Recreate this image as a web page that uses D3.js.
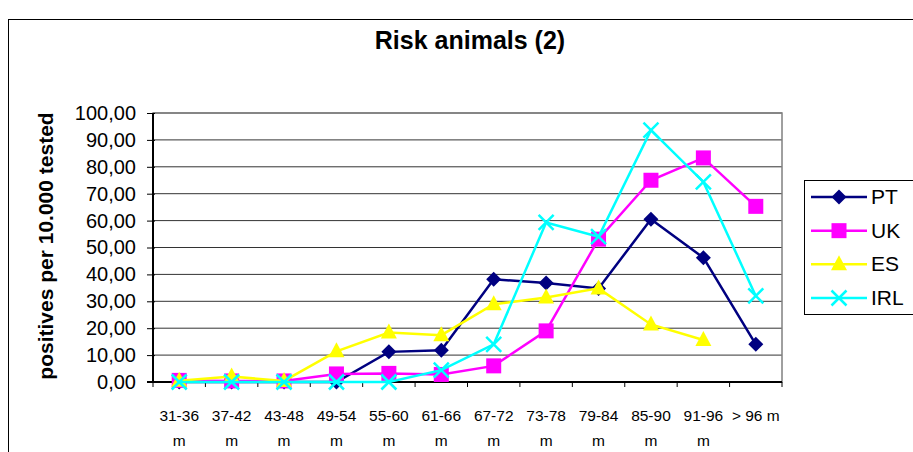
<!DOCTYPE html>
<html>
<head>
<meta charset="utf-8">
<script src="https://cdn.jsdelivr.net/npm/d3@7"></script>
<style>
  body { margin: 0; background: #fff; }
  svg { font-family: "Liberation Sans", Arial, sans-serif; }
</style>
</head>
<body>
<svg width="913" height="452"></svg>
<script>
// data
var categories = ["31-36 m", "37-42 m", "43-48 m", "49-54 m", "55-60 m", "61-66 m",
                  "67-72 m", "73-78 m", "79-84 m", "85-90 m", "91-96 m", "> 96 m"];
var ptValues  = [0, 0, 0, 0, 11.2, 11.8, 38.2, 36.8, 34.8, 60.5, 46.2, 14.0];
var ukValues  = [0.6, 0.4, 0.4, 3.0, 3.2, 2.8, 6.0, 19.0, 53.1, 75.0, 83.3, 65.3];
var esValues  = [0.5, 2.0, 0.4, 11.4, 18.4, 17.4, 28.9, 31.4, 34.8, 21.4, 15.6, null];
var irlValues = [0, 0, 0, 0, 0, 4.4, 14.0, 59.3, 54.0, 93.6, 74.4, 32.0];
var yTicks = [0, 10, 20, 30, 40, 50, 60, 70, 80, 90, 100];

var series = [
    {name: "PT",  values: ptValues,  color: "#000080", marker: "diamond"},
    {name: "UK",  values: ukValues,  color: "#ff00ff", marker: "square"},
    {name: "ES",  values: esValues,  color: "#ffff00", marker: "triangle"},
    {name: "IRL", values: irlValues, color: "#00ffff", marker: "cross"}
];

var svg = d3.select("svg");
var plotLeft = 153, plotRight = 782, plotTop = 113, plotBottom = 382;

// outer chart border
svg.append("rect")
    .attr("x", 8.5).attr("y", 19.5)
    .attr("width", 920).attr("height", 460)
    .attr("fill", "none").attr("stroke", "#000");

svg.append("text")
    .attr("x", 470).attr("y", 49)
    .attr("text-anchor", "middle")
    .style("font-size", "25px").style("font-weight", "bold")
    .text("Risk animals (2)");

svg.append("text")
    .attr("transform", "translate(53,246) rotate(-90)")
    .attr("text-anchor", "middle")
    .style("font-size", "21px").style("font-weight", "bold")
    .text("positives per 10.000 tested");

var xScale = d3.scaleBand().domain(categories).range([plotLeft, plotRight]);
var yScale = d3.scaleLinear().domain([0, 100]).range([plotBottom, plotTop]);
var cx = function(i) { return xScale(categories[i]) + xScale.bandwidth() / 2; };

// gridlines
svg.append("g").selectAll("line")
    .data(yTicks.slice(1))
    .enter().append("line")
    .attr("x1", plotLeft).attr("x2", plotRight)
    .attr("y1", d => yScale(d)).attr("y2", d => yScale(d))
    .attr("stroke", "#333").attr("stroke-width", 1);

// plot area border (gray)
svg.append("rect")
    .attr("x", plotLeft).attr("y", plotTop)
    .attr("width", plotRight - plotLeft).attr("height", plotBottom - plotTop)
    .attr("fill", "none").attr("stroke", "#808080").attr("stroke-width", 1.5);

// y axis
var yAxis = d3.axisLeft(yScale)
    .tickValues(yTicks)
    .tickSize(6)
    .tickPadding(11)
    .tickFormat(d => d3.format(".2f")(d).replace(".", ","));
var yg = svg.append("g").attr("transform", `translate(${plotLeft},0)`).call(yAxis);
yg.select(".domain").remove();
yg.selectAll(".tick line").attr("x2", -6).attr("x1", 2).attr("stroke", "#000");
yg.selectAll("text").style("font-size", "20px").attr("fill", "#000")
    .style("font-family", "'Liberation Sans', Arial, sans-serif");
svg.append("line").attr("x1", plotLeft).attr("x2", plotLeft)
    .attr("y1", plotTop).attr("y2", plotBottom + 1)
    .attr("stroke", "#000").attr("stroke-width", 2);

// x axis
svg.append("line").attr("x1", plotLeft - 6).attr("x2", plotRight)
    .attr("y1", plotBottom).attr("y2", plotBottom)
    .attr("stroke", "#000").attr("stroke-width", 2);
svg.append("g").selectAll("line")
    .data(categories.concat(["end"]))
    .enter().append("line")
    .attr("x1", (d, i) => i < categories.length ? xScale(d) : plotRight)
    .attr("x2", (d, i) => i < categories.length ? xScale(d) : plotRight)
    .attr("y1", plotBottom).attr("y2", plotBottom + 5)
    .attr("stroke", "#000");

var xl = svg.append("g").selectAll("text")
    .data(categories)
    .enter().append("text")
    .attr("text-anchor", "middle")
    .style("font-size", "15.5px");
xl.each(function(d, i) {
    var lines = d.indexOf("-") >= 0 ? d.split(" ") : [d];
    var t = d3.select(this);
    lines.forEach(function(l, j) {
        t.append("tspan").attr("x", cx(i)).attr("y", 421 + j * 25).text(l);
    });
});

// markers
function drawMarker(g, type, color, x, y) {
    if (type === "diamond") {
        g.append("path").attr("d", `M${x},${y - 7.5}L${x + 7.5},${y}L${x},${y + 7.5}L${x - 7.5},${y}Z`)
            .attr("fill", color);
    } else if (type === "square") {
        g.append("rect").attr("x", x - 7.5).attr("y", y - 7.5).attr("width", 15).attr("height", 15)
            .attr("fill", color);
    } else if (type === "triangle") {
        g.append("path").attr("d", `M${x},${y - 9}L${x + 8},${y + 6}L${x - 8},${y + 6}Z`)
            .attr("fill", color);
    } else {
        g.append("path").attr("d", `M${x - 7.5},${y - 7.5}L${x + 7.5},${y + 7.5}M${x + 7.5},${y - 7.5}L${x - 7.5},${y + 7.5}`)
            .attr("stroke", color).attr("stroke-width", 2.5).attr("fill", "none");
    }
}

var line = d3.line()
    .defined(d => d != null)
    .x((d, i) => cx(i))
    .y(d => yScale(d));

series.forEach(function(s) {
    var g = svg.append("g");
    g.append("path")
        .attr("d", line(s.values))
        .attr("fill", "none")
        .attr("stroke", s.color)
        .attr("stroke-width", 2.5);
    s.values.forEach(function(v, i) {
        if (v != null) drawMarker(g, s.marker, s.color, cx(i), yScale(v));
    });
});

// legend
svg.append("rect")
    .attr("x", 804.5).attr("y", 180.5)
    .attr("width", 120).attr("height", 134)
    .attr("fill", "#fff").attr("stroke", "#000");
var legendY = d3.scalePoint().domain(series.map(s => s.name)).range([197, 298]);
series.forEach(function(s) {
    var g = svg.append("g");
    var y = legendY(s.name);
    g.append("line").attr("x1", 811).attr("x2", 867).attr("y1", y).attr("y2", y)
        .attr("stroke", s.color).attr("stroke-width", 2.5);
    drawMarker(g, s.marker, s.color, 839, y);
    g.append("text").attr("x", 871).attr("y", y + 7)
        .style("font-size", "21px").text(s.name);
});
</script>
</body>
</html>
